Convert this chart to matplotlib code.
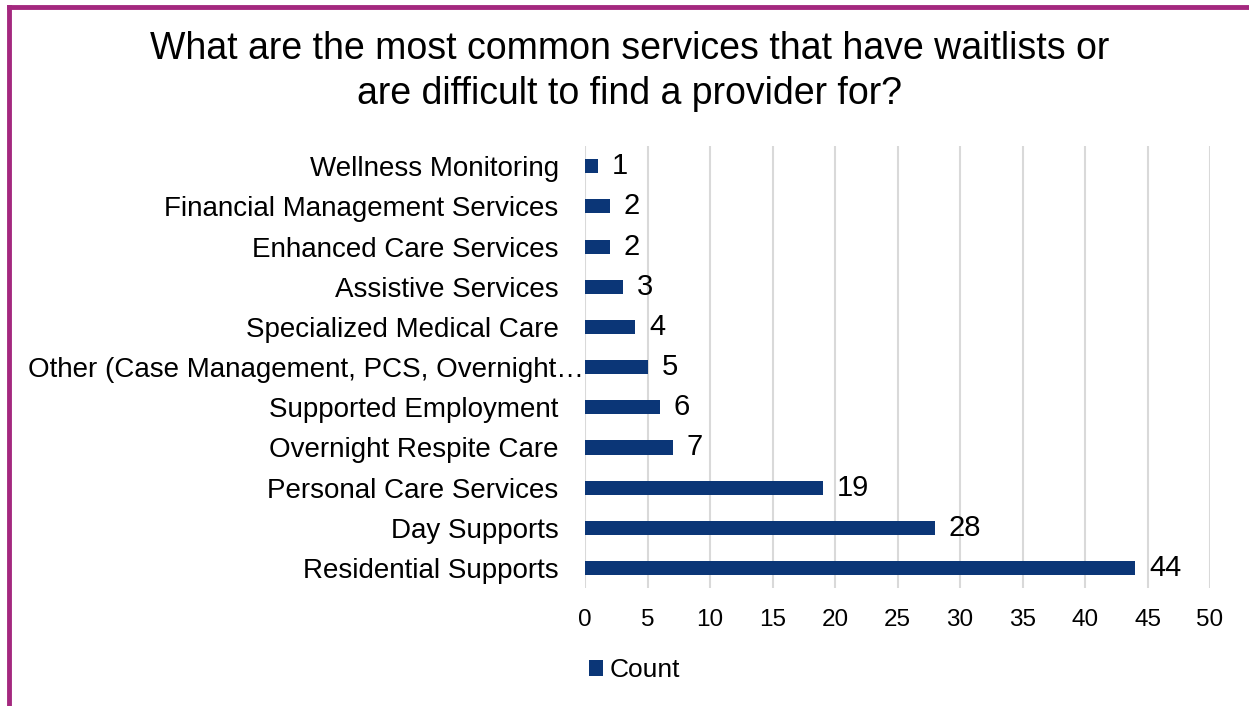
import matplotlib.pyplot as plt
from matplotlib.lines import Line2D
from matplotlib.transforms import ScaledTranslation

plt.rcParams['font.family'] = ['Liberation Sans', 'DejaVu Sans']

services = ["Wellness Monitoring", "Financial Management Services", "Enhanced Care Services",
            "Assistive Services", "Specialized Medical Care",
            "Other (Case Management, PCS, Overnight\u2026", "Supported Employment",
            "Overnight Respite Care", "Personal Care Services", "Day Supports",
            "Residential Supports"]
counts = [1, 2, 2, 3, 4, 5, 6, 7, 19, 28, 44]
xticks = list(range(0, 51, 5))

bar_color = "#0b3677"
fig = plt.figure(figsize=(12.49, 7.06), dpi=100)
ax = fig.add_axes([0.4684, 0.167, 0.5004, 0.626])

ypos = list(range(len(services)))
bars = ax.barh(ypos, counts, height=0.35, color=bar_color, label="Count", zorder=3)
ax.set_ylim(len(services) - 0.5, -0.5)
ax.set_yticks(ypos)
ax.set_yticklabels(services, fontsize=20)
ax.set_xlim(0, 50)
ax.set_xticks(xticks)
ax.set_xticklabels([str(t) for t in xticks], fontsize=17.5)
ax.tick_params(axis='y', length=0, pad=19)
ax.tick_params(axis='x', length=0, pad=15)
for s in ax.spines.values():
    s.set_visible(False)
ax.grid(axis='x', color="#d9d9d9", linewidth=1.5, zorder=0)

# the truncated "Other" label runs up to the axis
for lbl in ax.get_yticklabels():
    if lbl.get_text().startswith("Other"):
        lbl.set_transform(lbl.get_transform() + ScaledTranslation(0.25, 0, fig.dpi_scale_trans))

for b, v in zip(bars, counts):
    ax.annotate(str(v), (b.get_width(), b.get_y() + b.get_height() / 2),
                xytext=(10, 0), textcoords="offset points",
                va="center", ha="left", fontsize=21)

fig.suptitle("What are the most common services that have waitlists or\nare difficult to find a provider for?",
             x=0.504, y=0.956, va="top", fontsize=27, linespacing=1.33)

fig.legend(loc="center", bbox_to_anchor=(0.508, 0.051), frameon=False, fontsize=19,
           handlelength=0.55, handleheight=0.55, handletextpad=0.25)

# purple frame along the top and left edges
frame = "#a4287f"
fig.add_artist(Line2D([0.0072, 1.0], [0.9901, 0.9901], color=frame, linewidth=3.5,
                      transform=fig.transFigure))
fig.add_artist(Line2D([0.0072, 0.0072], [0.0, 0.9901], color=frame, linewidth=3.5,
                      transform=fig.transFigure))

fig.savefig("out.png", dpi=100)
